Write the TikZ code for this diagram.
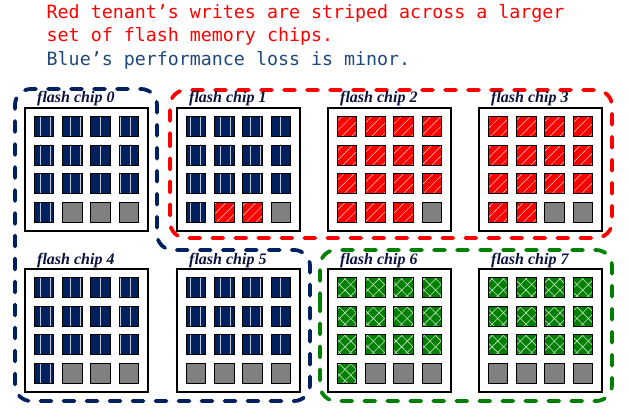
\documentclass[tikz,border=0pt]{standalone}
\usepackage{fontspec}
\setmainfont{Liberation Serif}
\newfontfamily\monofnt{DejaVu Sans Mono}
\usetikzlibrary{patterns.meta}
\definecolor{navy}{RGB}{0,32,96}
\definecolor{txtblue}{RGB}{31,73,125}
\definecolor{dkgreen}{RGB}{0,128,0}
\definecolor{labelc}{RGB}{12,18,60}
\definecolor{cellgray}{RGB}{128,128,128}
\tikzset{
  chipbox/.style={draw=black, line width=2pt, minimum width=123pt, minimum height=123pt, anchor=north west, inner sep=0pt, outer sep=0pt},
  chiplabel/.style={anchor=base west, inner sep=0pt, font=\fontsize{16}{18}\selectfont\bfseries\itshape, text=labelc},
  bcell/.style={draw=black, line width=0.9pt, preaction={fill=navy}, pattern={Lines[angle=90,distance=10pt,line width=0.9pt]}, pattern color=white!75!navy},
  rcell/.style={draw=black, line width=0.9pt, preaction={fill=red}, pattern={Lines[angle=45,distance=7pt,line width=0.5pt]}, pattern color=white!85!red},
  gcell/.style={draw=black, line width=0.9pt, preaction={fill=dkgreen}, preaction={pattern={Lines[angle=45,distance=8pt,line width=0.6pt]}, pattern color=white!80!dkgreen}, pattern={Lines[angle=-45,distance=8pt,line width=0.6pt]}, pattern color=white!80!dkgreen},
  ecell/.style={draw=black, line width=0.9pt, fill=cellgray},
  region/.style={line width=3.8pt, dash pattern=on 11pt off 12pt, line cap=round, rounded corners=16pt},
  headtext/.style={anchor=base west, inner sep=0pt, font=\monofnt\fontsize{18.3}{22}\selectfont}
}
\newcommand\drawchip[5]{%
  \node[chipbox] (#1) at (#2,#3) {};
  \node[chiplabel] (#1lab) at (#2+12,#3-5) {flash chip #4};
  \foreach \t [count=\k from 0] in {#5} {
    \pgfmathtruncatemacro\ccol{mod(\k,4)}
    \pgfmathtruncatemacro\crow{div(\k,4)}
    \path[\t] (#2+9.3+28.3*\ccol, #3+8.5+28.5*\crow) rectangle ++(19.5,20);
  }
}
\begin{document}
\begin{tikzpicture}[x=1pt,y=-1pt]
\fill[white] (0,0) rectangle (629,409);
\useasboundingbox (0,0) rectangle (629,409);

\node[headtext, text=red] (t1) at (46.5,18.5) {Red tenant’s writes are striped across a larger};
\node[headtext, text=red] (t2) at (46.5,41.5) {set of flash memory chips.};
\node[headtext, text=txtblue] (t3) at (46.5,65.5) {Blue’s performance loss is minor.};

\draw[region, draw=navy] (15,240) -- (15,89) -- (157,89) -- (157,250) -- (310,250) -- (310,401) -- (15,401) -- cycle;
\draw[region, draw=red] (170,160) -- (170,90) -- (612,90) -- (612,238) -- (170,238) -- cycle;
\draw[region, draw=dkgreen] (320,320) -- (320,250) -- (612,250) -- (612,401) -- (320,401) -- cycle;

\drawchip{c0}{25}{108}{0}{bcell,bcell,bcell,bcell,bcell,bcell,bcell,bcell,bcell,bcell,bcell,bcell,bcell,ecell,ecell,ecell}
\drawchip{c1}{177}{108}{1}{bcell,bcell,bcell,bcell,bcell,bcell,bcell,bcell,bcell,bcell,bcell,bcell,bcell,rcell,rcell,ecell}
\drawchip{c2}{328}{108}{2}{rcell,rcell,rcell,rcell,rcell,rcell,rcell,rcell,rcell,rcell,rcell,rcell,rcell,rcell,rcell,ecell}
\drawchip{c3}{479}{108}{3}{rcell,rcell,rcell,rcell,rcell,rcell,rcell,rcell,rcell,rcell,rcell,rcell,rcell,rcell,ecell,ecell}
\drawchip{c4}{25}{269}{4}{bcell,bcell,bcell,bcell,bcell,bcell,bcell,bcell,bcell,bcell,bcell,bcell,bcell,ecell,ecell,ecell}
\drawchip{c5}{177}{269}{5}{bcell,bcell,bcell,bcell,bcell,bcell,bcell,bcell,bcell,bcell,bcell,bcell,ecell,ecell,ecell,ecell}
\drawchip{c6}{328}{269}{6}{gcell,gcell,gcell,gcell,gcell,gcell,gcell,gcell,gcell,gcell,gcell,gcell,gcell,ecell,ecell,ecell}
\drawchip{c7}{479}{269}{7}{gcell,gcell,gcell,gcell,gcell,gcell,gcell,gcell,gcell,gcell,gcell,gcell,ecell,ecell,ecell,ecell}
\end{tikzpicture}
\end{document}
